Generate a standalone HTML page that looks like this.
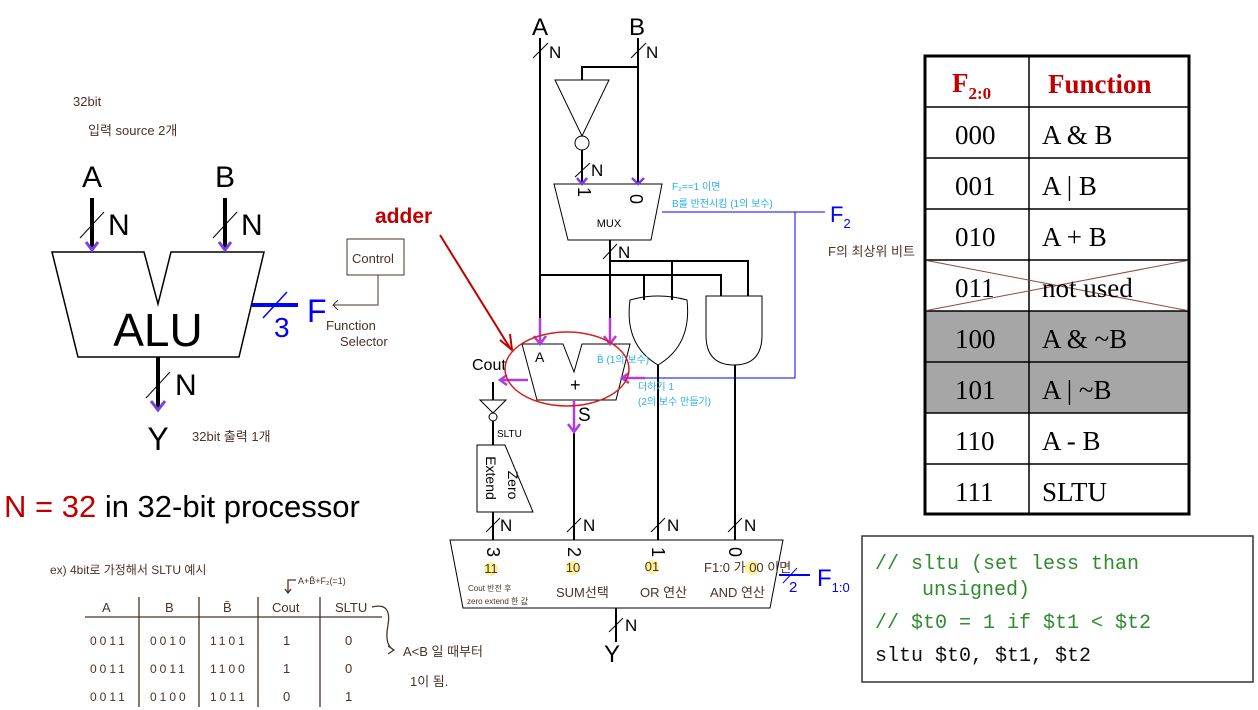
<!DOCTYPE html>
<html><head><meta charset="utf-8"><style>
html,body{margin:0;padding:0;background:#fff;width:1258px;height:710px;overflow:hidden}
svg{display:block}
text{font-family:"Liberation Sans","Noto Sans CJK KR",sans-serif}
.h{fill:#4a3328;font-size:13px}
.c{fill:#29aee8;font-size:10px}
.s,.s text{font-family:"Liberation Serif","Noto Serif CJK SC",serif;font-size:27px}
.m,.m text{font-family:"Liberation Mono",monospace;font-size:20px}
</style></head><body>
<svg width="1258" height="710" viewBox="0 0 1258 710" xmlns="http://www.w3.org/2000/svg">
<g fill="none" stroke="#000">
<path d="M52,252 L144,252 L158,304 L171,252 L264,252 L239,357 L78,357 Z" stroke-width="1.5"/>
<line x1="92" y1="198" x2="92" y2="250" stroke-width="4"/>
<line x1="225" y1="198" x2="225" y2="250" stroke-width="4"/>
<line x1="158" y1="357" x2="158" y2="410" stroke-width="4"/>
<line x1="80" y1="238" x2="104" y2="212"/><line x1="213" y1="238" x2="237" y2="212"/><line x1="146" y1="398" x2="170" y2="372"/>
</g>
<path d="M86,242 L92,250 L98,242 M219,242 L225,250 L231,242 M151,401 L158,410 L165,401" fill="none" stroke="#7b3fe4" stroke-width="3"/>
<line x1="252" y1="305" x2="298" y2="305" stroke="#0000ff" stroke-width="4"/>
<line x1="263" y1="318" x2="287" y2="292" stroke="#0000ff" stroke-width="1.5"/>
<text x="92" y="187" font-size="30" text-anchor="middle">A</text>
<text x="225" y="187" font-size="30" text-anchor="middle">B</text>
<text x="108" y="235" font-size="30">N</text><text x="241" y="235" font-size="30">N</text>
<text x="175" y="395" font-size="30">N</text>
<text x="158" y="346" font-size="46" text-anchor="middle">ALU</text>
<text x="274" y="337" font-size="28" fill="#0000ff">3</text>
<text x="307" y="322" font-size="32" fill="#0000ff">F</text>
<text x="158" y="450" font-size="32" text-anchor="middle">Y</text>
<rect x="347" y="239" width="57" height="36" fill="none" stroke="#4a3328"/>
<text x="352" y="263" class="h" font-size="12">Control</text>
<path d="M378,275 L378,305 L333,305 M338,300 L333,305 L338,310" fill="none" stroke="#4a3328"/>
<text x="326" y="330" class="h" font-size="11">Function</text>
<text x="340" y="346" class="h" font-size="11">Selector</text>
<text x="73" y="106" class="h">32bit</text>
<text x="88" y="135" class="h">입력 source 2개</text>
<text x="192" y="441" class="h" font-size="15">32bit 출력 1개</text>
<text x="4" y="517" font-size="31"><tspan fill="#c00000">N = 32</tspan> in 32-bit processor</text>

<text x="375" y="223" font-size="21" font-weight="bold" fill="#c00000">adder</text>
<line x1="440" y1="235" x2="510" y2="348" stroke="#c00000" stroke-width="2"/>
<path d="M500,340 L512,350 L510,334" fill="none" stroke="#c00000" stroke-width="2"/>

<g fill="none" stroke="#000" stroke-width="2">
<line x1="540" y1="38" x2="540" y2="344"/>
<line x1="638" y1="38" x2="638" y2="184"/>
<path d="M582,80 L582,67 L638,67"/>
<path d="M555,80 L609,80 L582,136 Z" stroke-width="1"/>
<circle cx="582" cy="143" r="7" stroke-width="1"/>
<line x1="582" y1="150" x2="582" y2="184"/>
<path d="M554,184 L662,184 L651,240 L568,240 Z" stroke-width="1"/>
<line x1="610" y1="240" x2="610" y2="344"/>
<path d="M610,261 L748,261 L748,296 M672,261 L672,300"/>
<path d="M540,275 L721,275 L721,296 M644,275 L644,300"/>
<path d="M630,300 Q658,292 687,300 Q692,345 658,365 Q624,345 630,300 Z" stroke-width="1"/>
<path d="M706,296 L762,296 L762,335 Q762,365 734,365 Q706,365 706,335 Z" stroke-width="1"/>
<line x1="658" y1="365" x2="658" y2="540"/>
<line x1="735" y1="365" x2="735" y2="540"/>
<path d="M522,344 L563,344 L574,372 L582,344 L630,344 L616,400 L537,400 Z" stroke-width="1"/>
<line x1="574" y1="400" x2="574" y2="540"/>
<line x1="493" y1="382" x2="493" y2="400"/>
<path d="M480,400 L506,400 L493,413 Z" stroke-width="1"/>
<circle cx="493" cy="417" r="4" stroke-width="1"/>
<line x1="493" y1="421" x2="493" y2="445"/>
<path d="M477,445 L505,445 L533,512 L477,512 Z" stroke-width="1"/>
<line x1="493" y1="512" x2="493" y2="540"/>
<path d="M450,540 L783,540 L770,608 L463,608 Z" stroke-width="1"/>
<line x1="616" y1="608" x2="616" y2="642"/>
</g>
<g stroke="#000" stroke-width="1">
<line x1="533" y1="58" x2="548" y2="43"/><line x1="631" y1="58" x2="646" y2="43"/>
<line x1="575" y1="177" x2="590" y2="163"/><line x1="603" y1="259" x2="617" y2="244"/>
<line x1="486" y1="532" x2="500" y2="518"/><line x1="567" y1="532" x2="581" y2="518"/>
<line x1="651" y1="532" x2="665" y2="518"/><line x1="728" y1="532" x2="742" y2="518"/>
<line x1="609" y1="632" x2="623" y2="618"/>
</g>
<g font-size="17">
<text x="540" y="35" font-size="24" text-anchor="middle">A</text>
<text x="637" y="35" font-size="24" text-anchor="middle">B</text>
<text x="549" y="58">N</text><text x="646" y="58">N</text>
<text x="591" y="176">N</text><text x="618" y="258">N</text>
<text x="500" y="531">N</text><text x="583" y="531">N</text><text x="667" y="531">N</text><text x="744" y="531">N</text>
<text x="625" y="631">N</text>
<text x="604" y="662" font-size="24">Y</text>
<text x="578" y="421" font-size="19">S</text>
<text x="570" y="391" font-size="18">+</text>
<text x="535" y="362" font-size="14">A</text>
</g>
<text transform="translate(578,192) rotate(90)" font-size="18" text-anchor="middle">1</text>
<text transform="translate(630,199) rotate(90)" font-size="18" text-anchor="middle">0</text>
<text x="609" y="227" font-size="11" text-anchor="middle">MUX</text>
<text transform="translate(486,478) rotate(90)" font-size="14" text-anchor="middle">Extend</text>
<text transform="translate(508,485) rotate(90)" font-size="14" text-anchor="middle">Zero</text>
<g font-size="18" text-anchor="middle">
<text transform="translate(487,552) rotate(90)">3</text>
<text transform="translate(568,552) rotate(90)">2</text>
<text transform="translate(652,552) rotate(90)">1</text>
<text transform="translate(729,552) rotate(90)">0</text>
</g>
<g fill="#fbf29a"><circle cx="491" cy="569" r="7"/><circle cx="573" cy="568" r="7"/><circle cx="652" cy="567" r="7"/><circle cx="752" cy="568" r="7"/></g>
<g class="h" font-size="10">
<text x="491" y="573" text-anchor="middle">11</text><text x="573" y="572" text-anchor="middle">10</text>
<text x="652" y="571" text-anchor="middle">01</text>
<text x="704" y="572">F1:0 가 00 이면</text>
<text x="468" y="591" font-size="8">Cout 반전 후</text><text x="467" y="604" font-size="8">zero extend 한 값</text>
<text x="556" y="597">SUM선택</text><text x="640" y="597">OR 연산</text><text x="710" y="597">AND 연산</text>
<text x="472" y="370" fill="#000" font-size="16">Cout</text>
<text x="497" y="437" fill="#000" font-size="10">SLTU</text>
</g>
<g fill="none" stroke="#b43bdc" stroke-width="2.5">
<path d="M540,318 L540,344 M534,336 L540,344 L546,336"/>
<path d="M610,318 L610,344 M604,336 L610,344 L616,336"/>
<path d="M574,400 L574,432 M568,424 L574,432 L580,424"/>
<path d="M528,380 L500,380 M507,375 L500,380 L507,385"/>
<path d="M645,378 L622,378 M629,373 L622,378 L629,383"/>
</g>
<path d="M577,178 L582,184 L587,178 M632,178 L638,184 L644,178" fill="none" stroke="#7b3fe4" stroke-width="2.5"/>
<ellipse cx="567" cy="369" rx="62" ry="37" fill="none" stroke="#d42020" stroke-width="1.5"/>
<path d="M662,212 L825,212 M795,212 L795,378 L645,378" fill="none" stroke="#0000ff" stroke-width="1"/>
<text x="830" y="222" font-size="22" fill="#0000ff">F<tspan font-size="13" dy="6">2</tspan></text>
<text x="828" y="256" class="h" font-size="11">F의 최상위 비트</text>
<text x="672" y="190" class="c">F₂==1 이면</text>
<text x="672" y="207" class="c">B를 반전시킴 (1의 보수)</text>
<text x="597" y="363" class="c">B̄ (1의 보수)</text>
<text x="638" y="390" class="c">더하기 1</text>
<text x="638" y="405" class="c">(2의 보수 만들기)</text>
<line x1="779" y1="575" x2="810" y2="575" stroke="#0000ff" stroke-width="2"/>
<line x1="783" y1="583" x2="797" y2="568" stroke="#0000ff"/>
<text x="789" y="592" font-size="15" fill="#0000ff">2</text>
<text x="817" y="586" font-size="24" fill="#0000ff">F<tspan font-size="13" dy="6">1:0</tspan></text>

<rect x="924" y="311" width="266" height="102" fill="#a6a6a6"/>
<g stroke="#000" stroke-width="1.5">
<line x1="924" y1="107" x2="1190" y2="107"/><line x1="924" y1="158" x2="1190" y2="158"/>
<line x1="924" y1="209" x2="1190" y2="209"/><line x1="924" y1="260" x2="1190" y2="260"/>
<line x1="924" y1="311" x2="1190" y2="311"/><line x1="924" y1="362" x2="1190" y2="362"/>
<line x1="924" y1="413" x2="1190" y2="413"/><line x1="924" y1="464" x2="1190" y2="464"/>
<line x1="1029" y1="55" x2="1029" y2="515"/>
<line x1="924" y1="260" x2="1190" y2="311" stroke="#8b4b3b" stroke-width="1"/>
<line x1="924" y1="311" x2="1190" y2="260" stroke="#8b4b3b" stroke-width="1"/>
</g>
<rect x="925" y="56" width="264" height="458" fill="none" stroke="#000" stroke-width="3"/>
<text x="952" y="92" class="s" fill="#c00000" font-weight="bold">F<tspan font-size="17" dy="7">2:0</tspan></text>
<text x="1048" y="93" class="s" fill="#c00000" font-weight="bold">Function</text>
<g class="s">
<text x="955" y="144">000</text><text x="1042" y="144">A &amp; B</text>
<text x="955" y="195">001</text><text x="1042" y="195">A | B</text>
<text x="955" y="246">010</text><text x="1042" y="246">A + B</text>
<text x="955" y="297">011</text><text x="1042" y="297">not used</text>
<text x="955" y="348">100</text><text x="1042" y="348">A &amp; ~B</text>
<text x="955" y="399">101</text><text x="1042" y="399">A | ~B</text>
<text x="955" y="450">110</text><text x="1042" y="450">A - B</text>
<text x="955" y="501">111</text><text x="1042" y="501">SLTU</text>
</g>
<rect x="862" y="536" width="391" height="146" fill="none" stroke="#333" stroke-width="1.5"/>
<g class="m" fill="#2e8b2e">
<text x="875" y="569">// sltu (set less than</text>
<text x="922" y="595">unsigned)</text>
<text x="875" y="628">// $t0 = 1 if $t1 &lt; $t2</text>
</g>
<text x="875" y="661" class="m" fill="#111">sltu $t0, $t1, $t2</text>

<g class="h">
<text x="50" y="574" font-size="12">ex) 4bit로 가정해서 SLTU 예시</text>
<text x="298" y="584" font-size="9">A+B̄+F₂(=1)</text>
<text x="102" y="612" font-size="13">A</text><text x="165" y="612" font-size="13">B</text>
<text x="223" y="612" font-size="13">B̄</text><text x="272" y="612" font-size="13">Cout</text>
<text x="335" y="612" font-size="13">SLTU</text>
<text x="90" y="645" font-size="12" letter-spacing="3">0011</text><text x="150" y="645" font-size="12" letter-spacing="3">0010</text>
<text x="210" y="645" font-size="12" letter-spacing="3">1101</text><text x="283" y="645" font-size="13">1</text><text x="345" y="645" font-size="13">0</text>
<text x="90" y="673" font-size="12" letter-spacing="3">0011</text><text x="150" y="673" font-size="12" letter-spacing="3">0011</text>
<text x="210" y="673" font-size="12" letter-spacing="3">1100</text><text x="283" y="673" font-size="13">1</text><text x="345" y="673" font-size="13">0</text>
<text x="90" y="701" font-size="12" letter-spacing="3">0011</text><text x="150" y="701" font-size="12" letter-spacing="3">0100</text>
<text x="210" y="701" font-size="12" letter-spacing="3">1011</text><text x="283" y="701" font-size="13">0</text><text x="345" y="701" font-size="13">1</text>
<text x="403" y="656" font-size="13">A&lt;B 일 때부터</text>
<text x="410" y="686" font-size="13">1이 됨.</text>
</g>
<g fill="none" stroke="#4a3328" stroke-width="1.3">
<line x1="85" y1="617" x2="382" y2="617"/>
<line x1="139" y1="597" x2="139" y2="707"/><line x1="199" y1="597" x2="199" y2="707"/>
<line x1="258" y1="597" x2="258" y2="707"/><line x1="320" y1="597" x2="320" y2="707"/>
<path d="M372,607 Q392,602 388,625 Q384,645 394,650 M388,646 L394,650 L388,654"/>
<path d="M296,580 L288,580 L288,593 M285,589 L288,593 L291,589"/>
</g>
</svg>
</body></html>
